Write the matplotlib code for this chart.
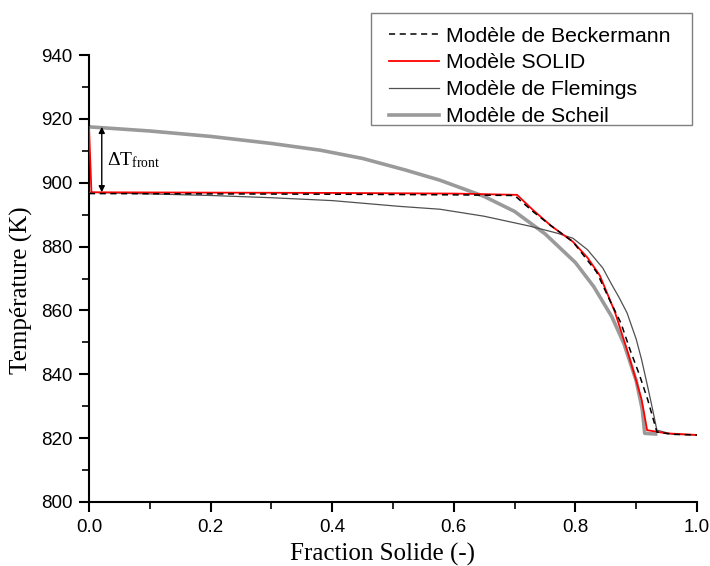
import matplotlib
matplotlib.use("Agg")
import matplotlib.pyplot as plt
from matplotlib.patches import Rectangle
from matplotlib.ticker import MultipleLocator

plt.rcParams["mathtext.fontset"] = "custom"
plt.rcParams["mathtext.rm"] = "Liberation Serif"
plt.rcParams["mathtext.it"] = "Liberation Serif:italic"

# Data
beck_x = [0.0, 0.2, 0.4, 0.6, 0.70, 0.73, 0.76, 0.796, 0.835, 0.857, 0.875, 0.89, 0.905, 0.919, 0.928, 0.934, 0.96, 1.0]
beck_y = [896.6, 896.5, 896.4, 896.2, 896.0, 891.0, 886.5, 881.5, 872.0, 863.0, 856.0, 847.6, 840.0, 832.0, 826.0, 821.9, 821.2, 821.0]

solid_x = [0.0, 0.004, 0.2, 0.4, 0.6, 0.704, 0.73, 0.76, 0.796, 0.82, 0.84, 0.865, 0.885, 0.90, 0.909, 0.918, 0.95, 1.0]
solid_y = [917.5, 897.0, 896.9, 896.8, 896.6, 896.2, 891.5, 886.5, 881.5, 876.5, 871.0, 859.5, 847.6, 838.0, 832.0, 822.5, 821.5, 821.0]

flem_x = [0.0, 0.1, 0.2, 0.3, 0.4, 0.51, 0.577, 0.65, 0.725, 0.77, 0.796, 0.82, 0.845, 0.86, 0.872, 0.885, 0.90, 0.909, 0.919, 0.927, 0.934, 0.96, 1.0]
flem_y = [897.0, 896.5, 896.0, 895.3, 894.4, 892.6, 891.7, 889.5, 886.4, 884.2, 882.6, 879.0, 873.3, 868.0, 864.0, 859.2, 851.0, 844.5, 836.0, 829.0, 822.5, 821.2, 821.0]

scheil_x = [0.0, 0.1, 0.2, 0.3, 0.38, 0.45, 0.52, 0.577, 0.62, 0.65, 0.70, 0.75, 0.80, 0.83, 0.86, 0.88, 0.90, 0.91, 0.914, 0.932]
scheil_y = [917.5, 916.2, 914.5, 912.3, 910.2, 907.6, 904.0, 900.8, 897.8, 895.7, 891.0, 884.0, 875.0, 867.5, 858.0, 849.5, 838.0, 829.0, 821.5, 821.3]

labels = ["Modèle de Beckermann", "Modèle SOLID", "Modèle de Flemings", "Modèle de Scheil"]
xticks = [0.0, 0.2, 0.4, 0.6, 0.8, 1.0]
yticks = [800, 820, 840, 860, 880, 900, 920, 940]

fig = plt.figure(figsize=(7.1, 5.66), dpi=100)
ax = fig.add_axes([89/710, 1 - 502/566, (697-89)/710, (502-55)/566])

l4, = ax.plot(scheil_x, scheil_y, color="#9a9a9a", lw=2.6, zorder=2)
l3, = ax.plot(flem_x, flem_y, color="#505050", lw=0.9, zorder=3)
l2, = ax.plot(solid_x, solid_y, color="#ff0000", lw=1.3, zorder=4)
l1, = ax.plot(beck_x, beck_y, color="black", lw=1.1, ls=(0, (4, 3)), zorder=5)

ax.set_xlim(0, 1.0)
ax.set_ylim(800, 940)
ax.set_xticks(xticks)
ax.set_yticks(yticks)
ax.xaxis.set_minor_locator(MultipleLocator(0.1))
ax.yaxis.set_minor_locator(MultipleLocator(10))
ax.set_xticklabels([f"{v:.1f}" for v in xticks])
for s in ["top", "right"]:
    ax.spines[s].set_visible(False)
for s in ["left", "bottom"]:
    ax.spines[s].set_linewidth(1.5)
ax.tick_params(which="major", direction="out", length=7, width=1.5, labelsize=13.5,
               labelfontfamily="Liberation Sans", colors="black", pad=5)
ax.tick_params(which="minor", direction="out", length=5, width=1.2)

ax.set_xlabel("Fraction Solide (-)", fontsize=18, family="Liberation Serif")
ax.set_ylabel("Température (K)", fontsize=18, family="Liberation Serif")
ax.xaxis.set_label_coords(0.482, -0.092)
ax.yaxis.set_label_coords(-0.092, 0.474)

# Delta T annotation
ax.annotate("", xy=(0.021, 897.0), xytext=(0.021, 917.5),
            arrowprops=dict(arrowstyle="<|-|>", color="black", lw=1.0,
                            mutation_scale=9, shrinkA=0, shrinkB=0))
ax.text(0.029, 907.0, r"$\Delta\mathrm{T}_{\mathrm{front}}$",
        fontsize=14, va="center", ha="left")

leg = fig.legend([l1, l2, l3, l4], labels, loc="upper left",
                 bbox_to_anchor=(378/710, 1 - 16/566), frameon=False,
                 prop={"family": "Liberation Sans", "size": 15.3},
                 handlelength=2.35, handletextpad=0.33, labelspacing=0.37,
                 borderpad=0.5, borderaxespad=0)
fig.patches.append(Rectangle((371/710, 1 - 125/566), 321/710, 112/566,
                             transform=fig.transFigure, fill=False,
                             edgecolor="#7f7f7f", linewidth=1.0))

fig.savefig("out.png", dpi=100)
